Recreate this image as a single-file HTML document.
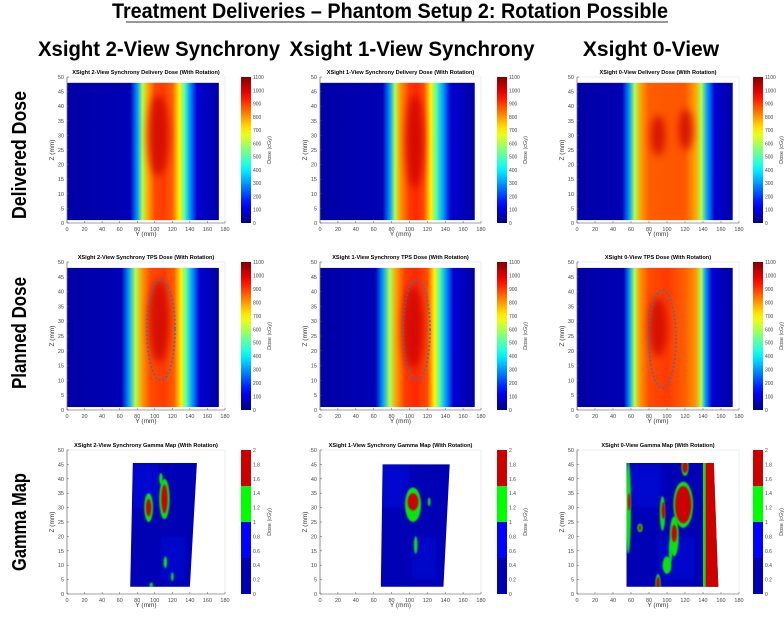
<!DOCTYPE html>
<html><head><meta charset="utf-8">
<style>
body{margin:0;background:#fff;width:784px;height:614px;overflow:hidden}
svg text{font-family:"Liberation Sans",sans-serif}
</style></head>
<body>
<svg id="fig" width="784" height="614" viewBox="0 0 784 614" xmlns="http://www.w3.org/2000/svg">
<defs>
<filter id="blur4" x="-50%" y="-50%" width="200%" height="200%"><feGaussianBlur stdDeviation="4"/></filter>
<filter id="blur1" x="-50%" y="-50%" width="200%" height="200%"><feGaussianBlur stdDeviation="0.8"/></filter>
</defs>
<text x="390" y="18" text-anchor="middle" font-size="21" font-weight="bold" textLength="556" lengthAdjust="spacingAndGlyphs">Treatment Deliveries – Phantom Setup 2: Rotation Possible</text>
<line x1="126" y1="22" x2="668" y2="22" stroke="#777" stroke-width="1.5"/>
<text x="159" y="56" text-anchor="middle" font-size="21" font-weight="bold" textLength="242" lengthAdjust="spacingAndGlyphs">Xsight 2-View Synchrony</text>
<text x="412" y="56" text-anchor="middle" font-size="21" font-weight="bold" textLength="245" lengthAdjust="spacingAndGlyphs">Xsight 1-View Synchrony</text>
<text x="651" y="56" text-anchor="middle" font-size="21" font-weight="bold">Xsight 0-View</text>
<text transform="translate(26,155) rotate(-90)" text-anchor="middle" font-size="20" font-weight="bold" textLength="128" lengthAdjust="spacingAndGlyphs">Delivered Dose</text>
<text transform="translate(26,333) rotate(-90)" text-anchor="middle" font-size="20" font-weight="bold" textLength="112" lengthAdjust="spacingAndGlyphs">Planned Dose</text>
<text transform="translate(26,522) rotate(-90)" text-anchor="middle" font-size="20" font-weight="bold" textLength="98" lengthAdjust="spacingAndGlyphs">Gamma Map</text>
<g id="panels"></g>
</svg>
<script>
const yTicks=[0,20,40,60,80,100,120,140,160,180];
const zTicks=[0,5,10,15,20,25,30,35,40,45,50];
const doseTicks=[0,100,200,300,400,500,600,700,800,900,1000,1100];
const gammaTicks=[0,0.2,0.4,0.6,0.8,1,1.2,1.4,1.6,1.8,2];
const colTitles=["XSight 2-View Synchrony","XSight 1-View Synchrony","XSight 0-View"];
// dose profile across Y (mm) per panel
const profY_d1=[0,72,80,86,92,100,110,120,128,134,140,148,173];
const profD_d1=[40,60,300,600,780,880,900,860,700,500,300,90,40];
const profY_d2=[0,70,78,84,90,100,108,116,124,130,138,146,173];
const profD_d2=[40,60,300,600,800,900,920,880,700,500,300,90,40];
const profY_d3=[0,50,58,64,72,80,100,120,132,138,145,153,173];
const profD_d3=[40,60,300,600,800,860,870,870,780,600,300,90,40];
const profY_p1=[0,62,70,78,86,95,110,122,130,136,143,151,173];
const profD_p1=[40,60,300,600,800,880,900,860,700,500,300,90,40];
const profY_p2=[0,62,70,78,86,95,108,120,128,134,141,149,173];
const profD_p2=[40,60,300,600,800,900,920,880,700,500,300,90,40];
const profY_p3=[0,52,58,64,70,80,100,120,132,138,143,150,173];
const profD_p3=[40,60,300,600,800,880,900,860,800,600,300,90,40];
// hot-spot ellipses [Ycenter, Zcenter, Yradius, Zradius]
const hot_d1=[[104,30,12,14]];const hot_d2=[[106,28,10,16]];const hot_d3=[[90,30,8,7],[121,32,8,7]];
const hot_p1=[[105,30,12,14]];const hot_p2=[[104,28,12,14]];const hot_p3=[[90,28,10,10]];
// PTV contour [Ycenter, Zcenter, Yradius, Zradius]
const ptv1=[107,27,16,17];const ptv2=[108,27,15,17];const ptv3=[95,24,15,16.5];
// gamma map regions: [Yleft_bottom, Yright_bottom, Yleft_top, Yright_top, Zbottom, Ztop]
const gReg1=[72,140,75,148,2.5,45.5];
const gReg2=[68,138,70,145,2.5,45];
const gReg3=[55,157,55,152,2.5,45.5];
// gamma blobs [Y, Z, rY, rZ, level] level 1=green 2=red
const gBlobs1=[[93,30,5,5,1],[93,30,3,3,2],[111,33,6,7,1],[111,33,3.5,5,2],[107,40,2,2,1],[112,11,2,2,1],[120,6,1.5,1.5,1],[96,3,2,1,1]];
const gBlobs2=[[104,31,9,6,1],[104,32,6,3,2],[107,17,2,3,1],[122,32,1.5,1.5,1]];
const gBlobs3=[[118,31,11,8,1],[118,31,9,6.5,2],[120,44,4,3,1],[120,44,3,2,2],[108,20,5,7,1],[108,21,3,3,2],[95,28,3,6,1],[96,29,2,3,2],[70,23,3,1.5,1],[70,23,1.5,1,2],[90,3,3,4,1],[90,3,2,3,2],[100,10,5,3,1],[57,30,3,16,1],[58,32,1.5,3,2],[104,15,2,4,1]];
// right-edge fail band [Yleft, Yright] for 0-view
const gBand3=[143,158];

const SVGNS="http://www.w3.org/2000/svg";
const root=document.getElementById('panels');
function mk(tag,attrs,parent){const e=document.createElementNS(SVGNS,tag);for(const k in attrs)e.setAttribute(k,attrs[k]);(parent||root).appendChild(e);return e;}
function jet(v){v=Math.max(0,Math.min(1,v));const c=x=>Math.round(255*Math.max(0,Math.min(1,1.5-Math.abs(x))));return `rgb(${c(4*v-3)},${c(4*v-2)},${c(4*v-1)})`;}
const colX=[[67,225,241],[320,481,497],[577,739,753]];
const rowY=[[77,223],[262,410],[450,594]];
let gid=0;
function makeAxes(ci,ri){
  const [x0,x1]=colX[ci];const [y0,y1]=rowY[ri];
  const sx=v=>x0+v/180*(x1-x0);const sz=v=>y1-v/50*(y1-y0);
  return {x0,x1,y0,y1,sx,sz};
}
function frame(g,A,title){
  const r=mk('rect',{x:A.x0,y:A.y0,width:A.x1-A.x0,height:A.y1-A.y0,fill:'none',stroke:'#ddd','stroke-width':0.5},g);
  
  
  const t=mk('text',{x:(A.x0+A.x1)/2,y:A.y0-3,'text-anchor':'middle','font-size':5.6,'font-weight':'bold'},g);t.textContent=title;
  
  
  mk('line',{x1:A.x0,y1:A.y1,x2:A.x1,y2:A.y1,stroke:'#555','stroke-width':0.6},g);
  mk('line',{x1:A.x0,y1:A.y0,x2:A.x0,y2:A.y1,stroke:'#555','stroke-width':0.6},g);
  yTicks.forEach(v=>{const x=A.sx(v);mk('line',{x1:x,y1:A.y1,x2:x,y2:A.y1-2,stroke:'#555','stroke-width':0.5},g);
    const t=mk('text',{x:x,y:A.y1+8,'text-anchor':'middle','font-size':5.5,fill:'#444'},g);t.textContent=v;
    
    });
  zTicks.forEach(v=>{const y=A.sz(v);mk('line',{x1:A.x0,y1:y,x2:A.x0+2,y2:y,stroke:'#555','stroke-width':0.5},g);
    const t=mk('text',{x:A.x0-3,y:y+2,'text-anchor':'end','font-size':5.5,fill:'#444'},g);t.textContent=v;
    
    });
  const xl=mk('text',{x:(A.x0+A.x1)/2,y:A.y1+13,'text-anchor':'middle','font-size':6.5,fill:'#333'},g);xl.textContent='Y (mm)';
  
  
  const zl=mk('text',{transform:`translate(${A.x0-13},${(A.y0+A.y1)/2}) rotate(-90)`,'text-anchor':'middle','font-size':6.5,fill:'#333'},g);zl.textContent='Z (mm)';
  
  
}
function colorbar(g,ci,ri,gamma){
  const cx=colX[ci][2];const [y0,y1]=rowY[ri];const w=10;
  const ticks=gamma?gammaTicks:doseTicks;const max=gamma?2:1100;
  const cy=v=>y1-v/max*(y1-y0);
  if(gamma){
    [[0,0.5,'#0000b0'],[0.5,1,'#0000ff'],[1,1.5,'#00ff00'],[1.5,2,'#cc0000']].forEach(s=>{
      const r=mk('rect',{x:cx,y:cy(s[1]),width:w,height:cy(s[0])-cy(s[1]),fill:s[2]},g);
      
      });
  } else {
    const id='cb'+(gid++);const lg=mk('linearGradient',{id,x1:0,y1:1,x2:0,y2:0},g);
    for(let i=0;i<=20;i++){mk('stop',{offset:i/20,'stop-color':jet(i/20)},lg);}
    const r=mk('rect',{x:cx,y:y0,width:w,height:y1-y0,fill:`url(#${id})`},g);
    
    
  }
  ticks.forEach(v=>{const t=mk('text',{x:cx+w+2,y:cy(v)+2,'font-size':5,fill:'#444'},g);t.textContent=v;
    
    });
  const l=mk('text',{transform:`translate(${cx+w+20},${(y0+y1)/2}) rotate(-90)`,'text-anchor':'middle','font-size':5.5,fill:'#444'},g);l.textContent='Dose (cGy)';
  
  
}
function dosePanel(ci,ri,title,PY,PD,hots,ptv){
  const g=mk('g',{});
  const A=makeAxes(ci,ri);
  const id='pg'+(gid++);const lg=mk('linearGradient',{id,gradientUnits:'userSpaceOnUse',x1:A.sx(0),y1:0,x2:A.sx(173),y2:0},g);
  PY.forEach((y,i)=>mk('stop',{offset:y/173,'stop-color':jet(PD[i]/1100)},lg));
  const hm=mk('rect',{x:A.sx(0),y:A.sz(48),width:A.sx(173)-A.sx(0),height:A.sz(1)-A.sz(48),fill:`url(#${id})`},g);
  
  
  const cp='cl'+(gid++);const c=mk('clipPath',{id:cp},g);mk('rect',{x:A.sx(0),y:A.sz(48),width:A.sx(173)-A.sx(0),height:A.sz(1)-A.sz(48)},c);
  hots.forEach(hot=>{
  const hs=mk('ellipse',{cx:A.sx(hot[0]),cy:A.sz(hot[1]),rx:hot[2]/180*(A.x1-A.x0),ry:hot[3]/50*(A.y1-A.y0),fill:jet(1020/1100),opacity:0.75,filter:'url(#blur4)','clip-path':`url(#${cp})`},g);
  
  });
  if(ptv){const e=mk('ellipse',{cx:A.sx(ptv[0]),cy:A.sz(ptv[1]),rx:ptv[2]/180*(A.x1-A.x0),ry:ptv[3]/50*(A.y1-A.y0),fill:'none',stroke:'#3a6fb8','stroke-width':2,'stroke-dasharray':'0 4','stroke-linecap':'round'},g);
    
    }
  frame(g,A,title);colorbar(g,ci,ri,false);
}
function gammaPanel(ci,title,reg,blobs,band){
  const g=mk('g',{});
  const A=makeAxes(ci,2);
  const pts=[[reg[0],reg[4]],[reg[1],reg[4]],[reg[3],reg[5]],[reg[2],reg[5]]].map(p=>A.sx(p[0])+','+A.sz(p[1])).join(' ');
  const poly=mk('polygon',{points:pts,fill:'#0000b4'},g);
  
  
  const cp='cl'+(gid++);const c=mk('clipPath',{id:cp},g);mk('polygon',{points:pts},c);
  const gg=mk('g',{'clip-path':`url(#${cp})`},g);
  mk('rect',{x:A.sx(reg[2]),y:A.sz(45),width:(A.sx(reg[3])-A.sx(reg[2]))*0.4,height:A.sz(30)-A.sz(45),fill:'#0010e0',opacity:0.6,filter:'url(#blur4)'},gg);
  mk('rect',{x:A.sx(reg[0]+35),y:A.sz(20),width:(A.sx(reg[1])-A.sx(reg[0]))*0.4,height:A.sz(5)-A.sz(20),fill:'#0010e0',opacity:0.5,filter:'url(#blur4)'},gg);
  if(band){
    const b1=mk('rect',{x:A.sx(band[0]-3),y:A.sz(46),width:A.sx(band[1])-A.sx(band[0]-3),height:A.sz(2)-A.sz(46),fill:'#10e010'},gg);
    
    
    const b2=mk('rect',{x:A.sx(band[0]),y:A.sz(46),width:A.sx(band[1])-A.sx(band[0]),height:A.sz(2)-A.sz(46),fill:'#cc0000'},gg);
    
    
  }
  blobs.forEach(b=>{const e=mk('ellipse',{cx:A.sx(b[0]),cy:A.sz(b[1]),rx:b[2]/180*(A.x1-A.x0),ry:b[3]/50*(A.y1-A.y0),fill:b[4]==2?'#cc0000':'#10e010',filter:'url(#blur1)'},gg);
    
    });
  frame(g,A,title);colorbar(g,ci,2,true);
}
dosePanel(0,0,colTitles[0]+' Delivery Dose (With Rotation)',profY_d1,profD_d1,hot_d1,null);
dosePanel(1,0,colTitles[1]+' Delivery Dose (With Rotation)',profY_d2,profD_d2,hot_d2,null);
dosePanel(2,0,colTitles[2]+' Delivery Dose (With Rotation)',profY_d3,profD_d3,hot_d3,null);
dosePanel(0,1,colTitles[0]+' TPS Dose (With Rotation)',profY_p1,profD_p1,hot_p1,ptv1);
dosePanel(1,1,colTitles[1]+' TPS Dose (With Rotation)',profY_p2,profD_p2,hot_p2,ptv2);
dosePanel(2,1,colTitles[2]+' TPS Dose (With Rotation)',profY_p3,profD_p3,hot_p3,ptv3);
gammaPanel(0,colTitles[0]+' Gamma Map (With Rotation)',gReg1,gBlobs1,null);
gammaPanel(1,colTitles[1]+' Gamma Map (With Rotation)',gReg2,gBlobs2,null);
gammaPanel(2,colTitles[2]+' Gamma Map (With Rotation)',gReg3,gBlobs3,gBand3);
</script>
</body></html>
